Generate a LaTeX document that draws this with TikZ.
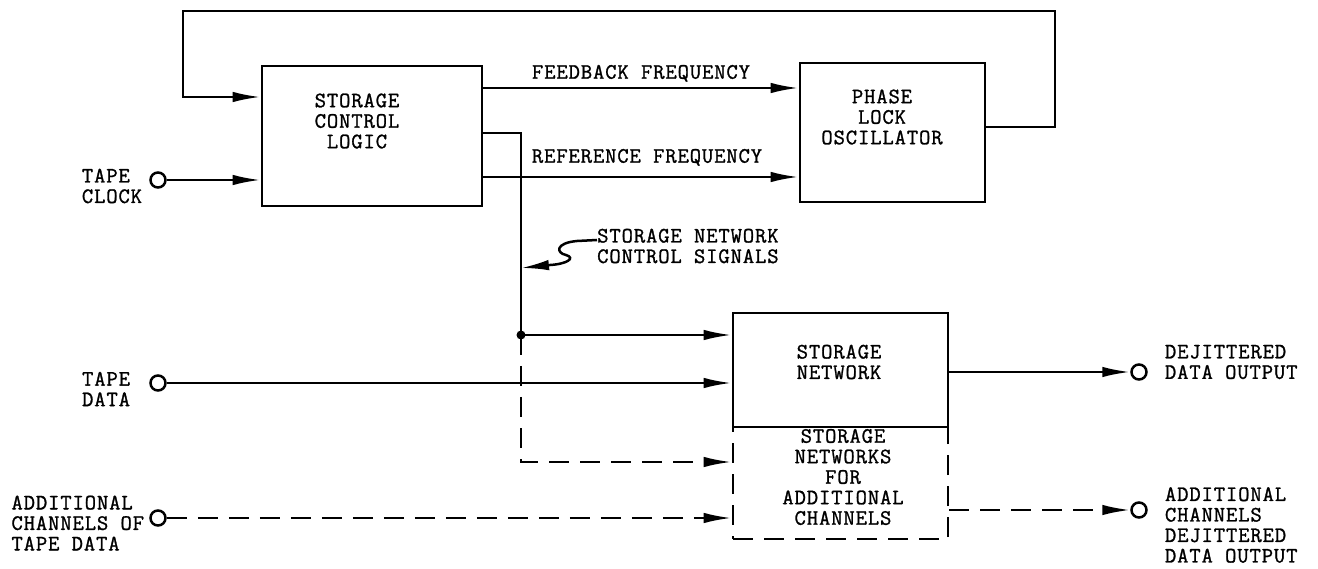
\documentclass[tikz,border=0pt]{standalone}
\usepackage{fontspec}
\setmonofont{Latin Modern Mono}[FakeBold=1.2,LetterSpace=4]
\usetikzlibrary{arrows.meta,calc,positioning}
\tikzset{
  blk/.style={
    draw,
    line width=2.7pt,
    inner sep=0pt
  },
  txt/.style={
    font=\ttfamily\fontsize{22}{20.5}\selectfont,
    align=center,
    inner sep=0pt
  },
  lbl/.style={
    font=\ttfamily\fontsize{22}{20.5}\selectfont,
    align=left,
    inner sep=0pt
  },
  port/.style={
    circle,
    draw,
    line width=2.5pt,
    minimum size=15pt,
    inner sep=0pt
  },
  wire/.style={
    line width=2.5pt
  },
  dwire/.style={
    line width=2.5pt,
    dash pattern=on 20pt off 11pt
  },
  arrow/.style={
    -{Latex[length=28pt,width=10.5pt]}
  }
}

\begin{document}
\begin{tikzpicture}[x=1pt,y=-1pt]
\useasboundingbox (0,0) rectangle (1318,569);

% blocks
\node[blk,minimum width=220pt,minimum height=140pt] (scl) at (372,136) {};
\node[txt] (sclt) at (357,121) {STORAGE\\CONTROL\\LOGIC};
\node[blk,minimum width=185pt,minimum height=139pt] (plo) at (892.5,132.5) {};
\node[txt] (plot) at (882,117) {PHASE\\LOCK\\OSCILLATOR};
\node[blk,dash pattern=on 20pt off 11pt,minimum width=215pt,minimum height=112pt] (snx) at (840.5,483) {};
\node[txt] (snxt) at (843,477) {STORAGE\\NETWORKS\\FOR\\ADDITIONAL\\CHANNELS};
\node[blk,minimum width=215pt,minimum height=114pt] (sn) at (840.5,370) {};
\node[txt] (snt) at (839,362) {STORAGE\\NETWORK};

% terminals
\node[port] (clk) at (158,180) {};
\node[port] (dat) at (158,383) {};
\node[port] (adx) at (158,518) {};
\node[port] (out) at (1139,372) {};
\node[port] (outx) at (1139,510) {};

\node[lbl,left=7pt of clk,yshift=-6pt] (clkl) {TAPE\\CLOCK};
\node[lbl,left=19pt of dat,yshift=-6pt] (datl) {TAPE\\DATA};
\node[lbl,left=5pt of adx,yshift=-5pt] (adxl) {ADDITIONAL\\CHANNELS OF\\TAPE DATA};
\node[lbl,right=17pt of out,yshift=10pt] (outl) {DEJITTERED\\DATA OUTPUT};
\node[lbl,right=17pt of outx,yshift=-15pt] (outxl) {ADDITIONAL\\CHANNELS\\DEJITTERED\\DATA OUTPUT};

% frequency lines
\draw[wire,arrow] (scl.east |- 0,88) -- (plo.west |- 0,88)
  node[lbl,midway,above=5pt] (fbl) {FEEDBACK FREQUENCY};
\draw[wire,arrow] (scl.east |- 0,177) -- (plo.west |- 0,177)
  node[lbl,midway,above=10pt,xshift=6pt] (rfl) {REFERENCE FREQUENCY};

% feedback loop round the top
\coordinate (fbR) at (1055,11);
\coordinate (fbL) at (183,11);
\draw[wire,arrow] (plo.east |- 0,127) -| (fbR) -- (fbL) |- (scl.west |- 0,97);

\draw[wire,arrow] (clk) -- (scl.west |- clk);

% control signals
\coordinate (jn) at (521,335);
\coordinate (tap) at (521,268);
\draw[wire] (scl.east |- 0,133) -| (jn);
\fill (jn) circle (4.5pt);
\draw[wire,arrow] (jn) -- (sn.west |- jn);
\draw[dwire,arrow] (jn) |- (snx.west |- 0,462);

\node[lbl,anchor=west] (ctl) at (597,246) {STORAGE NETWORK\\CONTROL SIGNALS};
\draw[wire,arrow] (597,240) -- (577,241)
  .. controls (555,243) and (556,253) .. (566,255)
  .. controls (576,258) and (567,264) .. (550,265) -- (tap);

% data paths
\draw[wire,arrow] (dat) -- (sn.west |- dat);
\draw[dwire,arrow] (adx) -- (snx.west |- adx);
\draw[wire,arrow] (sn.east |- out) -- (out);
\draw[dwire,arrow] (snx.east |- outx) -- (outx);
\end{tikzpicture}
\end{document}
